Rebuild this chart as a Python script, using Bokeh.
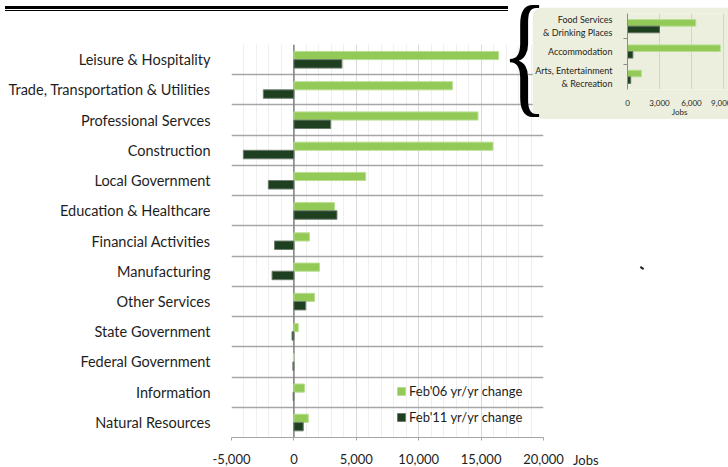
from bokeh.plotting import figure
from bokeh.models import (Range1d, FixedTicker, SingleIntervalTicker, NumeralTickFormatter,
                          Span, Legend, LegendItem, Div, ColumnDataSource)
from bokeh.transform import dodge
from bokeh.embed import file_html
from bokeh.resources import INLINE

# ---------------- data ----------------
categories = ["Leisure & Hospitality", "Trade, Transportation & Utilities", "Professional Servces",
              "Construction", "Local Government", "Education & Healthcare", "Financial Activities",
              "Manufacturing", "Other Services", "State Government", "Federal Government",
              "Information", "Natural Resources"]
feb06 = [16400, 12700, 14750, 15950, 5750, 3250, 1250, 2050, 1650, 350, -40, 850, 1150]
feb11 = [3850, -2450, 2950, -4050, -2050, 3450, -1550, -1750, 950, -150, -80, -60, 750]
series_names = ["Feb'06 yr/yr change", "Feb'11 yr/yr change"]
x_title = "Jobs"

sub_categories = ["Food Services\n& Drinking Places", "Accommodation", "Arts, Entertainment\n& Recreation"]
sub_feb06 = [6400, 8700, 1300]
sub_feb11 = [3000, 500, 300]
sub_ticks = [0, 3000, 6000, 9000]

LIGHT = "#92C957"
DARK = "#1E3F20"
TEXT = "#1E1E1E"
PANEL = "#ECEFDD"
FONT = "Lato"

# ---------------- main chart ----------------
n = len(categories)
ypos = [n - 1 - i for i in range(n)]
src = ColumnDataSource(dict(y=ypos, cat=categories, feb06=feb06, feb11=feb11))

p = figure(width=728, height=467, x_range=Range1d(-5000, 20000), y_range=Range1d(-0.5, n - 0.5),
           min_border_left=231, min_border_right=185, min_border_top=44, min_border_bottom=30,
           toolbar_location=None, output_backend="svg", outline_line_color=None,
           background_fill_color="white", border_fill_color="white",
           styles={"position": "absolute", "left": "0px", "top": "0px"})

p.xaxis.ticker = SingleIntervalTicker(interval=5000, num_minor_ticks=5)
p.xaxis.formatter = NumeralTickFormatter(format="0,0")
p.xaxis.axis_line_color = "#A6A6A6"
p.xaxis.major_tick_line_color = "#A6A6A6"
p.xaxis.major_tick_out = 3
p.xaxis.major_tick_in = 0
p.xaxis.minor_tick_line_color = None
p.xaxis.major_label_text_font = FONT
p.xaxis.major_label_text_font_size = "13px"
p.xaxis.major_label_text_color = TEXT
p.xaxis.major_label_standoff = 12

p.yaxis.ticker = FixedTicker(ticks=ypos)
p.yaxis.major_label_overrides = {y: c for y, c in zip(ypos, categories)}
p.yaxis.axis_line_color = None
p.yaxis.major_tick_line_color = None
p.yaxis.minor_tick_line_color = None
p.yaxis.major_label_text_font = FONT
p.yaxis.major_label_text_font_size = "14.5px"
p.yaxis.major_label_text_color = TEXT
p.yaxis.major_label_standoff = 15

p.xgrid.grid_line_color = "#D9D9D9"
p.xgrid.minor_grid_line_color = "#EFEFEF"
p.ygrid.ticker = FixedTicker(ticks=[y - 0.5 for y in range(n + 1)])
p.ygrid.grid_line_color = "#A6A6A6"
p.ygrid.grid_line_width = 1.3

p.add_layout(Span(location=0, dimension="height", line_color="#808080", line_width=1.5, level="underlay"))

r1 = p.hbar(y=dodge("y", 0.135), left=0, right="feb06", height=0.27, source=src,
            fill_color=LIGHT, line_color="#B9DE93", line_width=1)
r2 = p.hbar(y=dodge("y", -0.14), left=0, right="feb11", height=0.28, source=src,
            fill_color=DARK, line_color="#6E7E6E", line_width=1)

legend = Legend(items=[LegendItem(label=series_names[0], renderers=[r1]),
                       LegendItem(label=series_names[1], renderers=[r2])],
                location=(165, 12), orientation="vertical",
                glyph_width=10, glyph_height=10, label_standoff=3, spacing=10,
                label_height=16, padding=0, margin=0,
                label_text_font=FONT, label_text_font_size="13px", label_text_color=TEXT,
                border_line_color=None, background_fill_alpha=0)
p.add_layout(legend)

# ---------------- inset ----------------
m = len(sub_categories)
sub_y = [m - 1 - i for i in range(m)]
sub_src = ColumnDataSource(dict(y=sub_y, cat=sub_categories, feb06=sub_feb06, feb11=sub_feb11))

inset = figure(frame_width=104, frame_height=76, x_range=Range1d(0, 9750), y_range=Range1d(-0.5, m - 0.5),
               min_border_left=92, min_border_right=0, min_border_top=6, min_border_bottom=29,
               toolbar_location=None, output_backend="svg", outline_line_color=None,
               background_fill_color=PANEL, border_fill_color=PANEL,
               styles={"position": "absolute", "left": "532px", "top": "7px",
                       "border-radius": "12px 0 0 12px", "overflow": "hidden"})

inset.xaxis.ticker = FixedTicker(ticks=sub_ticks)
inset.xaxis.formatter = NumeralTickFormatter(format="0,0")
inset.xaxis.axis_line_color = None
inset.xaxis.major_tick_line_color = None
inset.xaxis.minor_tick_line_color = None
inset.xaxis.major_label_text_font = FONT
inset.xaxis.major_label_text_font_size = "8px"
inset.xaxis.major_label_text_color = TEXT
inset.xaxis.major_label_standoff = 4
inset.xaxis.axis_label = x_title
inset.xaxis.axis_label_text_font = FONT
inset.xaxis.axis_label_text_font_size = "8px"
inset.xaxis.axis_label_text_font_style = "normal"
inset.xaxis.axis_label_text_color = TEXT
inset.xaxis.axis_label_standoff = -2

inset.yaxis.ticker = FixedTicker(ticks=sub_y, minor_ticks=[0.5, 1.5])
inset.yaxis.major_label_overrides = {y: c for y, c in zip(sub_y, sub_categories)}
inset.yaxis.axis_line_color = "#8C8C8C"
inset.yaxis.major_tick_line_color = None
inset.yaxis.minor_tick_line_color = "#8C8C8C"
inset.yaxis.minor_tick_out = 4
inset.yaxis.minor_tick_in = 0
inset.yaxis.major_label_text_font = FONT
inset.yaxis.major_label_text_font_size = "9px"
inset.yaxis.major_label_text_color = TEXT
inset.yaxis.major_label_standoff = 9

inset.xgrid.grid_line_color = "#D3D7C2"
inset.ygrid.grid_line_color = None

inset.hbar(y=dodge("y", 0.13), left=0, right="feb06", height=0.26, source=sub_src,
           fill_color=LIGHT, line_color="#B9DE93", line_width=1)
inset.hbar(y=dodge("y", -0.13), left=0, right="feb11", height=0.26, source=sub_src,
           fill_color=DARK, line_color="#5E6E5E", line_width=1)

# ---------------- decorations ----------------
brace = Div(text="{", styles={"position": "absolute", "left": "501px", "top": "-15px",
                              "font-family": "Liberation Serif", "font-size": "136px",
                              "line-height": "1", "transform": "scaleX(0.72)",
                              "transform-origin": "0 0", "color": "#000000",
                              "margin": "0", "padding": "0"})

rule = Div(text="", styles={"position": "absolute", "left": "0px", "top": "1px",
                            "width": "503px", "height": "5px", "box-sizing": "border-box",
                            "border-top": "3px solid #000000", "border-bottom": "1px solid #000000"})

jobs = Div(text=x_title, styles={"position": "absolute", "left": "573px", "top": "452px",
                                 "font-family": FONT, "font-size": "13px", "line-height": "16px",
                                 "color": TEXT, "margin": "0", "padding": "0"})

tick_mark = Div(text="", styles={"position": "absolute", "left": "635px", "top": "262px",
                                 "width": "4px", "height": "2px", "background": "#222222",
                                 "transform": "rotate(35deg)"})

open("out.html", "w").write(file_html([p, inset, rule, jobs, tick_mark, brace], INLINE))
